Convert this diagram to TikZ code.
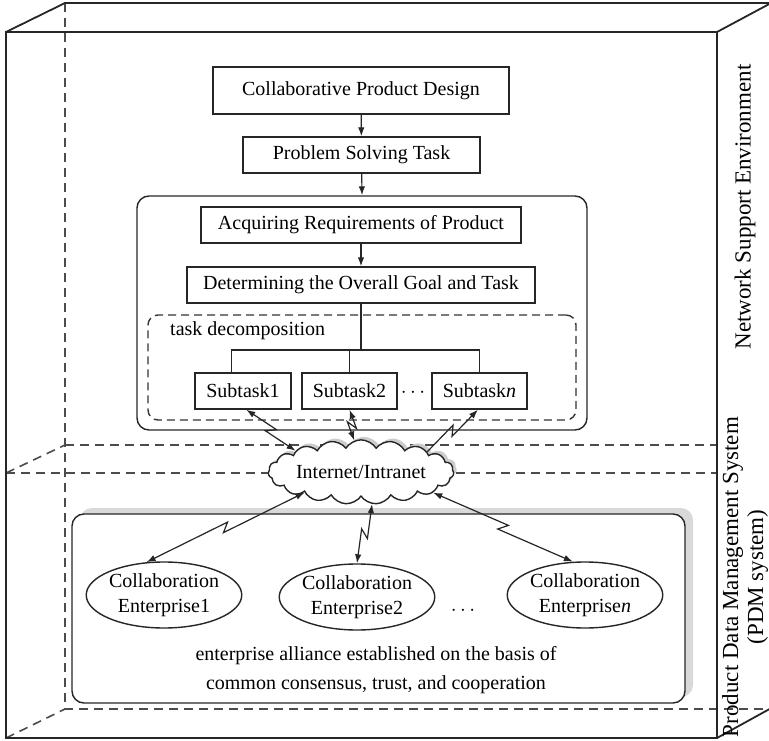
\documentclass[tikz,border=0pt]{standalone}
\usepackage{fontspec}
\setmainfont{Liberation Serif}
\usetikzlibrary{arrows.meta,calc,shapes.geometric,shapes.symbols}

% lightning-style connector: #1 arrow spec, #2 start, #3 end
\newcommand{\zapline}[3][<->]{%
  \draw[conn,#1] (#2) -- ($(#2)!0.5!(#3)!4pt!(#3)!4pt!90:(#3)$)
    -- ($(#2)!0.5!(#3)!-4pt!(#3)!4pt!-90:(#3)$) -- (#3);}

\begin{document}
\begin{tikzpicture}[x=1pt,y=-1pt,
  every node/.style={font=\fontsize{20}{23}\selectfont, inner sep=0pt},
  ink/.style={draw=black!85, line width=1.4pt},
  taskbox/.style={ink, rectangle, minimum height=36pt},
  cubeedge/.style={draw=black!85, line width=1.8pt},
  hidden/.style={draw=black!70, line width=1.6pt, dash pattern=on 9pt off 6pt},
  conn/.style={draw=black!85, line width=1.2pt, >={Latex[length=9pt,width=6.5pt]}},
  flow/.style={conn, ->},
  firm/.style={ink, ellipse, fill=white, minimum width=138pt, minimum height=66pt,
    align=center, font=\fontsize{20}{25}\selectfont},
  cloudshape/.style={cloud, cloud puffs=19, cloud puff arc=115, aspect=3.8,
    minimum width=182pt, minimum height=46pt},
  sidelabel/.style={rotate=90, font=\fontsize{23}{25}\selectfont, align=center}
]
\useasboundingbox (0,0) rectangle (769,741);
\clip (0,0) rectangle (769,741);

% ---- the cube: hidden edges and the two layer planes
\draw[hidden] (65,3) -- (65,709) -- (775,709);
\draw[hidden] (6,738) -- (65,709);
\draw[hidden] (65,445) -- (717,445);
\draw[hidden] (6,473) -- (65,445);
\draw[hidden] (6,473) -- (717,473);

% ---- the cube: visible edges
\draw[cubeedge] (6,32) rectangle (717,738);
\draw[cubeedge] (6,32) -- (65,3) -- (775,3);
\draw[cubeedge] (717,32) -- (773,2);
\draw[cubeedge] (717,738) -- (775,706);

% ---- design flow
\node[taskbox, minimum width=296pt, minimum height=47pt] (cpd) at (361,90.5) {Collaborative Product Design};
\node[taskbox, minimum width=237pt] (pst) at (361.5,155) {Problem Solving Task};
\node[ink, rounded corners=12pt, minimum width=450pt, minimum height=234pt] (stage) at (362,313) {};
\node[taskbox, minimum width=320pt] (arp) at (361,225) {Acquiring Requirements of Product};
\node[taskbox, minimum width=348pt] (dog) at (361,285) {Determining the Overall Goal and Task};
\node[draw=black!80, line width=1.4pt, dash pattern=on 8pt off 5pt, rounded corners=10pt,
      minimum width=428pt, minimum height=105pt] (decomp) at (362,367.5) {};
\node[anchor=west] (tdlabel) at (170,331) {task decomposition};

\node[taskbox, minimum width=96pt] (s1) at (243,391) {Subtask1};
\node[taskbox, minimum width=95pt] (s2) at (349.5,391) {Subtask2};
\node[taskbox, minimum width=95pt] (sn) at (479.5,391) {Subtask\textit{n}};
\node (sdots) at (413,393) {$\cdots$};

\draw[flow] (cpd) -- (pst);
\draw[flow] (pst) -- (stage.north);
\draw[flow] (arp) -- (dog);

% ---- decomposition tree
\coordinate (bar) at (361,350);
\draw[ink] (dog.south) -- (bar);
\draw[ink] (s1.121) |- (bar) -| (sn.north);
\draw[ink] (s2.north) -- (s2.north |- bar);

% ---- network
\node[cloudshape, fill=gray!40] (netshade) at (364,469) {\phantom{Internet/Intranet}};
\node[cloudshape, ink, fill=white] (net) at (361,472) {Internet/Intranet};

% ---- enterprise alliance
\node[fill=gray!30, rounded corners=12pt, minimum width=613pt, minimum height=189pt] (allyshade) at (386.5,602.5) {};
\node[ink, fill=white, rounded corners=12pt, minimum width=613pt, minimum height=189pt] (ally) at (378.5,608.5) {};
\node[firm] (e1) at (164,595) {Collaboration\\Enterprise1};
\node[firm] (e2) at (357,597) {Collaboration\\Enterprise2};
\node[firm] (en) at (585,595) {Collaboration\\Enterprise\textit{n}};
\node (edots) at (463,611) {$\cdots$};
\node[align=center, font=\fontsize{20}{29}\selectfont] (pact) at (376,670)
  {enterprise alliance established on the basis of\\common consensus, trust, and cooperation};

% ---- links through the network
\zapline{s1.-80}{net.162}
\zapline{s2.south}{net.102}
\zapline[->]{net.17}{sn.-95}
\zapline{net.200}{e1.118}
\zapline{net.-71}{e2.north}
\zapline{net.-16}{en.110}

% ---- layer labels
\node[sidelabel] (nse) at (745,207) {Network Support Environment};
\node[sidelabel] (pdm) at (745,577) {Product Data Management System\\(PDM system)};
\end{tikzpicture}
\end{document}
